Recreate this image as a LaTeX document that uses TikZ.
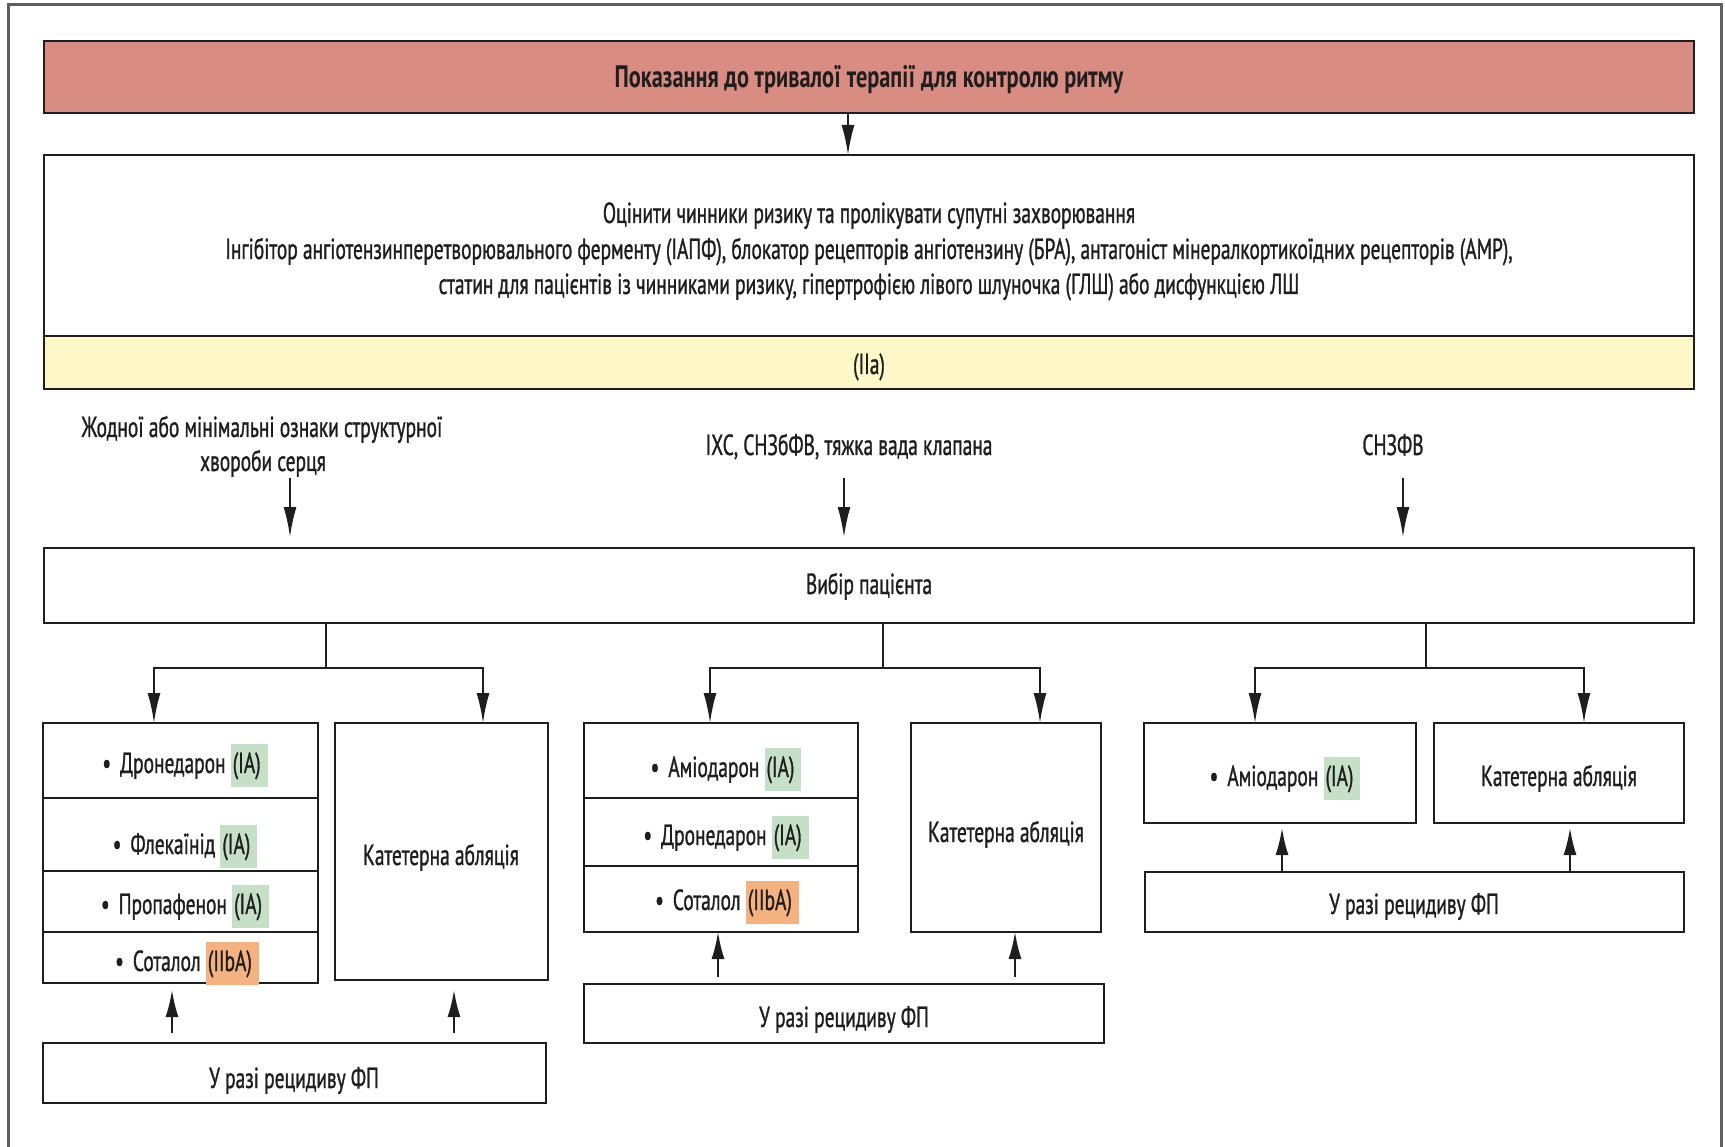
\documentclass[tikz,border=0pt]{standalone}
\usepackage{fontspec}
\setmainfont{PT Sans}[FakeStretch=0.67,FakeBold=1.0]
\newfontfamily\titlefont{PT Sans}[FakeStretch=0.72]
\usetikzlibrary{arrows.meta}
\definecolor{titlefill}{RGB}{217,140,130}
\definecolor{bandfill}{RGB}{254,247,200}
\definecolor{hlgreen}{RGB}{198,224,200}
\definecolor{hlorange}{RGB}{244,178,128}
\definecolor{linec}{RGB}{30,30,30}
\definecolor{framec}{RGB}{95,95,95}
\newcommand\hlbox[2]{{\setlength{\fboxsep}{0pt}\colorbox{#1}{\rule[-14pt]{0pt}{43pt}\kern2pt#2\kern7pt}}}
\newcommand\bul{•\kern9pt}
\begin{document}
\begin{tikzpicture}[x=1pt,y=-1pt,
  every node/.style={font=\fontsize{29}{34}\selectfont, text=linec},
  box/.style={draw=linec, line width=2.6pt, inner sep=0pt, outer sep=0pt, anchor=north west},
  txt/.style={inner sep=0pt, outer sep=0pt, anchor=base},
  link/.style={draw=linec, line width=2pt},
  arr/.style={draw=linec, line width=2pt, -{Latex[length=30pt,width=13pt]}},
  uparr/.style={draw=linec, line width=2pt, -{Latex[length=27pt,width=13pt]}}]
\useasboundingbox (0,0) rectangle (1725,1147);
\fill[white] (0,0) rectangle (1725,1147);
% outer frame
\draw[framec, line width=3pt] (8,1147) -- (8,5) -- (1721,5) -- (1721,1147);

% top boxes
\node[box, fill=titlefill, minimum width=1650pt, minimum height=72pt] (title) at (44,41) {};
\node[txt, font=\fontsize{31}{36}\titlefont\bfseries] (titletxt) at (869,88) {Показання до тривалої терапії для контролю ритму};
\node[box, fill=white, minimum width=1650pt, minimum height=181pt] (risk) at (44,155) {};
\node[box, fill=bandfill, minimum width=1650pt, minimum height=53pt] (band) at (44,336) {};
\node[txt] (risk1) at (869,223) {Оцінити чинники ризику та пролікувати супутні захворювання};
\node[txt] (risk2) at (869,259) {Інгібітор ангіотензинперетворювального ферменту (ІАПФ), блокатор рецепторів ангіотензину (БРА), антагоніст мінералкортикоїдних рецепторів (АМР),};
\node[txt] (risk3) at (869,294) {статин для пацієнтів із чинниками ризику, гіпертрофією лівого шлуночка (ГЛШ) або дисфункцією ЛШ};
\node[txt] (bandtxt) at (869,374) {(IIa)};
\coordinate (ta) at (848,0);
\draw[arr] (title.south -| ta) -- (risk.north -| ta);

% category labels
\node[txt] (lab1a) at (262,437) {Жодної або мінімальні ознаки структурної};
\node[txt] (lab1b) at (263,471) {хвороби серця};
\node[txt] (lab2) at (849,455) {ІХС, СНЗбФВ, тяжка вада клапана};
\node[txt] (lab3) at (1393,455) {СНЗФВ};
\coordinate (l1s) at (290,478); \coordinate (l1e) at (290,537);
\coordinate (l2s) at (844,478); \coordinate (l2e) at (844,537);
\coordinate (l3s) at (1403,478); \coordinate (l3e) at (1403,537);
\draw[arr] (l1s) -- (l1e);
\draw[arr] (l2s) -- (l2e);
\draw[arr] (l3s) -- (l3e);

% patient selection
\node[box, fill=white, minimum width=1650pt, minimum height=75pt] (sel) at (44,548) {};
\node[txt] (seltxt) at (869,594) {Вибір пацієнта};

% ---- left group
\node[box, minimum width=275pt, minimum height=75pt] (L1) at (43,723) {};
\node[box, minimum width=275pt, minimum height=73pt] (L2) at (43,798) {};
\node[box, minimum width=275pt, minimum height=61pt] (L3) at (43,871) {};
\node[box, minimum width=275pt, minimum height=51pt] (L4) at (43,932) {};
\node[txt] (L1t) at (185,773) {\bul Дронедарон \hlbox{hlgreen}{(IA)}};
\node[txt] (L2t) at (185,854) {\bul Флекаїнід \hlbox{hlgreen}{(IA)}};
\node[txt] (L3t) at (185,914) {\bul Пропафенон \hlbox{hlgreen}{(IA)}};
\node[txt] (L4t) at (187,971) {\bul Соталол \hlbox{hlorange}{(IIbA)}};
\node[box, minimum width=213pt, minimum height=257pt] (LC) at (335,723) {};
\node[txt] (LCt) at (441,865) {Катетерна абляція};
\node[box, minimum width=503pt, minimum height=60pt] (LB) at (43,1043) {};
\node[txt] (LBt) at (294,1088) {У разі рецидиву ФП};

\coordinate (ls) at (326,0);
\coordinate (lj) at (326,668);
\coordinate (la) at (154,0); \coordinate (lb) at (483,0);
\draw[link] (sel.south -| ls) -- (lj);
\draw[arr] (lj) -| (L1.north -| la);
\draw[arr] (lj) -| (LC.north -| lb);
\coordinate (lu1) at (172,0); \coordinate (lu2) at (454,0);
\draw[uparr, shorten <=10pt, shorten >=7pt] (LB.north -| lu1) -- (L4.south -| lu1);
\draw[uparr, shorten <=10pt, shorten >=10pt] (LB.north -| lu2) -- (LC.south -| lu2);

% ---- middle group
\node[box, minimum width=274pt, minimum height=75pt] (M1) at (584,723) {};
\node[box, minimum width=274pt, minimum height=68pt] (M2) at (584,798) {};
\node[box, minimum width=274pt, minimum height=66pt] (M3) at (584,866) {};
\node[txt] (M1t) at (726,777) {\bul Аміодарон \hlbox{hlgreen}{(IA)}};
\node[txt] (M2t) at (726,845) {\bul Дронедарон \hlbox{hlgreen}{(IA)}};
\node[txt] (M3t) at (727,910) {\bul Соталол \hlbox{hlorange}{(IIbA)}};
\node[box, minimum width=190pt, minimum height=209pt] (MC) at (911,723) {};
\node[txt] (MCt) at (1006,842) {Катетерна абляція};
\node[box, minimum width=520pt, minimum height=59pt] (MB) at (584,984) {};
\node[txt] (MBt) at (844,1027) {У разі рецидиву ФП};

\coordinate (ms) at (883,0);
\coordinate (mj) at (883,668);
\coordinate (ma) at (710,0); \coordinate (mb) at (1040,0);
\draw[link] (sel.south -| ms) -- (mj);
\draw[arr] (mj) -| (M1.north -| ma);
\draw[arr] (mj) -| (MC.north -| mb);
\coordinate (mu1) at (718,0); \coordinate (mu2) at (1015,0);
\draw[uparr, shorten <=7pt] (MB.north -| mu1) -- (M3.south -| mu1);
\draw[uparr, shorten <=7pt] (MB.north -| mu2) -- (MC.south -| mu2);

% ---- right group
\node[box, minimum width=272pt, minimum height=100pt] (R1) at (1144,723) {};
\node[txt] (R1t) at (1285,786) {\bul Аміодарон \hlbox{hlgreen}{(IA)}};
\node[box, minimum width=250pt, minimum height=100pt] (RC) at (1434,723) {};
\node[txt] (RCt) at (1559,786) {Катетерна абляція};
\node[box, minimum width=539pt, minimum height=60pt] (RB) at (1145,872) {};
\node[txt] (RBt) at (1414,914) {У разі рецидиву ФП};

\coordinate (rs) at (1426,0);
\coordinate (rj) at (1426,668);
\coordinate (ra) at (1255,0); \coordinate (rb) at (1584,0);
\draw[link] (sel.south -| rs) -- (rj);
\draw[arr] (rj) -| (R1.north -| ra);
\draw[arr] (rj) -| (RC.north -| rb);
\coordinate (ru1) at (1282,0); \coordinate (ru2) at (1570,0);
\draw[uparr, shorten >=5pt] (RB.north -| ru1) -- (R1.south -| ru1);
\draw[uparr, shorten >=5pt] (RB.north -| ru2) -- (RC.south -| ru2);
\end{tikzpicture}
\end{document}
